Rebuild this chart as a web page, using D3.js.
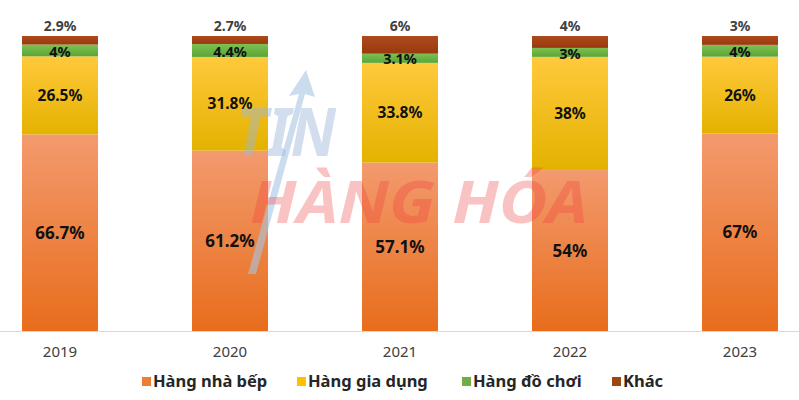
<!DOCTYPE html>
<html><head><meta charset="utf-8">
<script src="https://cdn.jsdelivr.net/npm/d3@7"></script>
<style>body{margin:0;background:#fff}svg{display:block}</style>
</head><body>
<script>
const years = ["2019","2020","2021","2022","2023"];
const seriesNames = ["Hàng nhà bếp","Hàng gia dụng","Hàng đồ chơi","Khác"];
const kitchen = [66.7, 61.2, 57.1, 54, 67];
const household = [26.5, 31.8, 33.8, 38, 26];
const toys = [4, 4.4, 3.1, 3, 4];
const other = [2.9, 2.7, 6, 4, 3];
const valueLists = [kitchen, household, toys, other];
const W = 799, H = 400;

const rows = years.map((y,i)=>{const r={year:y}; seriesNames.forEach((s,k)=>r[s]=valueLists[k][i]); return r;});
const stack = d3.stack().keys(seriesNames).offset(d3.stackOffsetExpand)(rows);

const svg = d3.select("body").append("svg").attr("width",W).attr("height",H);
const defs = svg.append("defs");
const grads = [
  ["#F39A6E","#E86D1C"],
  ["#FFC93C","#E4B200"],
  ["#7DC052","#5BA535"],
  ["#AD4A1C","#983A0E"]
];
grads.forEach((g,i)=>{
  const lg = defs.append("linearGradient").attr("id","g"+i).attr("x1",0).attr("y1",0).attr("x2",0).attr("y2",1);
  lg.append("stop").attr("offset","0%").attr("stop-color",g[0]);
  lg.append("stop").attr("offset","100%").attr("stop-color",g[1]);
});
const legendColors = ["#ED7D31","#FFC000","#70AD47","#9E480E"];

const x = d3.scaleBand().domain(years).range([-25,825]).paddingInner(0.553).paddingOuter(0.2765);
const y = d3.scaleLinear().domain([0,1]).range([331,36]);

svg.append("line").attr("x1",0).attr("x2",W).attr("y1",331.5).attr("y2",331.5).attr("stroke","#D9D9D9").attr("stroke-width",1);

const font = "'Noto Sans', 'DejaVu Sans', sans-serif";
stack.forEach((layer,k)=>{
  svg.append("g").selectAll("rect").data(layer).join("rect")
    .attr("x",d=>x(d.data.year)).attr("width",x.bandwidth())
    .attr("y",d=>y(d[1])).attr("height",d=>y(d[0])-y(d[1]))
    .attr("fill",`url(#g${k})`);
});

// watermark
const wm = svg.append("g").attr("pointer-events","none");
wm.append("path").attr("d","M248,274 L299,94 L289,96 L306,70 L315,97 L305,94 L256,274 Z").attr("fill","#A9C4E2").attr("opacity",0.6);
wm.append("text").attr("x",236).attr("y",156).attr("font-family",font).attr("font-weight","bold").attr("font-style","italic")
  .attr("font-size",66).attr("fill","#9DB8D8").attr("opacity",0.45).attr("textLength",100).attr("lengthAdjust","spacingAndGlyphs").text("TIN");
wm.append("text").attr("x",250).attr("y",223).attr("font-family",font).attr("font-weight","bold").attr("font-style","italic")
  .attr("font-size",60).attr("fill","#F03C3C").attr("opacity",0.3).attr("textLength",338).attr("lengthAdjust","spacingAndGlyphs").text("HÀNG HÓA");

// labels
const labelSize = [17, 15.5, 14.5, 14];
stack.forEach((layer,k)=>{
  const vals = valueLists[k];
  svg.append("g").selectAll("text").data(layer).join("text")
    .attr("x",d=>x(d.data.year)+x.bandwidth()/2)
    .attr("y",(d,i)=> k===3 ? y(d[1])-5 : (y(d[0])+y(d[1]))/2 + (k===2?1:0))
    .attr("dy", k===3 ? "0" : "0.36em")
    .attr("text-anchor","middle")
    .attr("font-family",font).attr("font-weight","bold")
    .attr("font-size", labelSize[k])
    .attr("fill", k===3 ? "#404040" : "#111")
    .text((d,i)=>vals[i]+"%");
});

// year axis labels
const xAxis = d3.axisBottom(x).tickSize(0).tickPadding(0);
const ax = svg.append("g").attr("transform","translate(0,346)").call(xAxis);
ax.select(".domain").remove();
ax.selectAll("text").attr("font-family",font).attr("font-size",15).attr("fill","#404040").attr("dy","0.71em");

// legend
const legendX = [142,297,462,612];
const lg = svg.append("g");
seriesNames.forEach((s,i)=>{
  lg.append("rect").attr("x",legendX[i]).attr("y",377).attr("width",9).attr("height",9).attr("fill",legendColors[i]);
  lg.append("text").attr("x",legendX[i]+11).attr("y",381.5).attr("dy","0.35em")
    .attr("font-family",font).attr("font-weight","bold").attr("font-size",16.5).attr("fill","#262626").text(s);
});
</script>
</body></html>
